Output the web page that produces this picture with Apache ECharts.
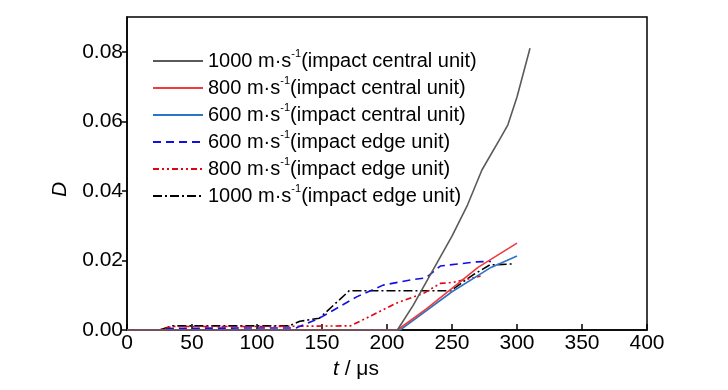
<!DOCTYPE html>
<html><head><meta charset="utf-8">
<script src="https://cdn.jsdelivr.net/npm/echarts@6/dist/echarts.min.js"></script>
<style>html,body{margin:0;padding:0;background:#fff}#c{width:728px;height:390px}</style>
</head><body><div id="c"></div>
<script>
var FONT = '"Liberation Sans",Arial,sans-serif';
var xTicks = [0, 50, 100, 150, 200, 250, 300, 350, 400];
var yTicks = [0.00, 0.02, 0.04, 0.06, 0.08];

var names = [
  '1000 m·s{sup|-1}(impact central unit)',
  '800 m·s{sup|-1}(impact central unit)',
  '600 m·s{sup|-1}(impact central unit)',
  '600 m·s{sup|-1}(impact edge unit)',
  '800 m·s{sup|-1}(impact edge unit)',
  '1000 m·s{sup|-1}(impact edge unit)'
];

var c1000T = [0, 50, 100, 150, 208, 220, 235, 250, 262, 273, 287, 293, 300, 310];
var c1000D = [0, 0, 0, 0, 0, 0.007, 0.017, 0.027, 0.036, 0.046, 0.055, 0.059, 0.067, 0.081];

var c800T = [0, 100, 208, 230, 250, 270, 300];
var c800D = [0, 0, 0, 0.006, 0.012, 0.018, 0.025];

var c600T = [0, 100, 210, 250, 280, 300];
var c600D = [0, 0, 0, 0.011, 0.018, 0.0213];

var e600T = [0, 25, 35, 130, 148, 177, 197, 218, 230, 241, 269, 280];
var e600D = [0, 0, 0.0005, 0.0006, 0.0034, 0.0096, 0.0129, 0.0144, 0.015, 0.0184, 0.0196, 0.0197];

var e800T = [0, 25, 35, 100, 172, 184, 207, 228, 241, 251, 272];
var e800D = [0, 0, 0.001, 0.001, 0.0012, 0.0034, 0.0077, 0.0105, 0.0134, 0.0137, 0.0155];

var e1000T = [0, 25, 35, 125, 133, 148, 171, 249, 266, 279, 297];
var e1000D = [0, 0, 0.0012, 0.0012, 0.0025, 0.0034, 0.0113, 0.0113, 0.0158, 0.0187, 0.019];

function pairs(t, d) { return t.map(function (v, i) { return [v, d[i]]; }); }

var styles = [
  { color: '#5a5a5a', type: 'solid' },
  { color: '#ee3b3b', type: 'solid' },
  { color: '#2f74c4', type: 'solid' },
  { color: '#1010e0', type: [8, 5] },
  { color: '#e60012', type: [6, 3, 2, 3, 2, 3] },
  { color: '#000000', type: [9, 3, 2, 3] }
];
var datas = [pairs(c1000T, c1000D), pairs(c800T, c800D), pairs(c600T, c600D),
             pairs(e600T, e600D), pairs(e800T, e800D), pairs(e1000T, e1000D)];

var series = names.map(function (n, i) {
  return {
    name: n, type: 'line', data: datas[i], symbol: 'none', smooth: false,
    lineStyle: { color: styles[i].color, type: styles[i].type, width: 1.6 },
    itemStyle: { color: styles[i].color },
    z: 10 - i
  };
});

var chart = echarts.init(document.getElementById('c'), null, { renderer: 'canvas' });
chart.setOption({
  animation: false,
  backgroundColor: '#fff',
  grid: { left: 127, right: 81, top: 17, bottom: 60, show: true, borderColor: '#000', borderWidth: 1.5, backgroundColor: 'transparent' },
  legend: {
    orient: 'vertical', left: 147, top: 43, itemWidth: 50, itemHeight: 14, itemGap: 1,
    itemStyle: { opacity: 0 },
    textStyle: { fontFamily: FONT, fontSize: 20, color: '#000', lineHeight: 26,
      rich: { sup: { fontFamily: FONT, fontSize: 11, verticalAlign: 'top', lineHeight: 26, padding: [0, 0, 10, 0] } } },
    data: names
  },
  xAxis: {
    type: 'value', min: 0, max: 400, interval: 50,
    name: '{i|t} / μs', nameLocation: 'middle', nameGap: 26,
    nameTextStyle: { fontFamily: FONT, fontSize: 21, color: '#000', padding: [0, 62, 0, 0],
      rich: { i: { fontFamily: FONT, fontSize: 21, fontStyle: 'italic' } } },
    axisLine: { lineStyle: { color: '#000', width: 1.5 } },
    axisTick: { inside: true, length: 6, lineStyle: { color: '#000', width: 1.5 } },
    axisLabel: { fontFamily: FONT, fontSize: 21, color: '#000', margin: 3 },
    splitLine: { show: false }
  },
  yAxis: {
    type: 'value', min: 0, max: 0.09, interval: 0.02,
    name: 'D', nameLocation: 'middle', nameGap: 56, nameRotate: 90,
    nameTextStyle: { fontFamily: FONT, fontSize: 21, fontStyle: 'italic', color: '#000', padding: [0, 32, 0, 0] },
    axisLine: { lineStyle: { color: '#000', width: 1.5 } },
    axisTick: { inside: false, length: 5, lineStyle: { color: '#000', width: 1.5 } },
    axisLabel: { fontFamily: FONT, fontSize: 21, color: '#000', margin: 4, showMaxLabel: false,
      formatter: function (v) { return v.toFixed(2); } },
    splitLine: { show: false }
  },
  series: series
});
</script></body></html>
